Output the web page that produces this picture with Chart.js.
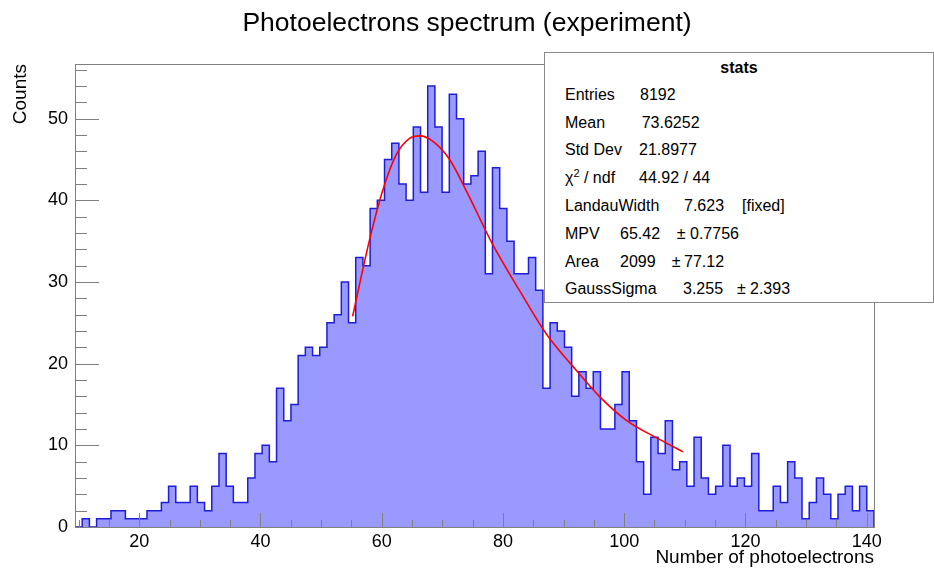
<!DOCTYPE html>
<html>
<head>
<meta charset="utf-8">
<title>Photoelectrons spectrum (experiment)</title>
<script src="https://cdn.jsdelivr.net/npm/chart.js@4.4.0/dist/chart.umd.min.js"></script>
<style>
  html, body { margin: 0; padding: 0; background: #fff; }
  #wrap { position: relative; width: 934px; height: 569px; }
  #stats {
    position: absolute; left: 544px; top: 52px; width: 390px; height: 251px;
    box-sizing: border-box; border: 1px solid #8a8a8a; background: #fff;
    font-family: 'Liberation Sans', Arial, sans-serif; font-size: 16px; color: #000;
  }
  #stats .t { position: absolute; white-space: pre; line-height: 20px; }
  #stats .sup { font-size: 11px; position: relative; top: -6px; }
</style>
</head>
<body>
<div id="wrap">
  <canvas id="spectrum" width="934" height="569"></canvas>
  <div id="stats"></div>
</div>
<script>
// histogram bins (counts per bin)
const binLow = 9.4;
const binWidth = 1.1875;
const counts = [
  0, 1, 0, 1, 1, 2, 2, 1, 1, 1,
  2, 2, 3, 5, 3, 3, 5, 3, 2, 5,
  9, 5, 3, 3, 6, 9, 10, 8, 17, 13,
  15, 21, 22, 21, 22, 25, 26, 30, 25, 33,
  32, 39, 40, 45, 47, 42, 40, 49, 41, 54,
  49, 41, 53, 50, 42, 43, 46, 31, 44, 39,
  35, 31, 31, 33, 29, 17, 25, 24, 22, 16,
  19, 17, 19, 12, 12, 15, 19, 13, 8, 4,
  11, 9, 13, 7, 8, 5, 11, 6, 4, 5,
  10, 5, 6, 5, 9, 2, 2, 5, 3, 8,
  6, 1, 3, 6, 4, 1, 4, 5, 2, 5,
  2
];

// fitted curve (landau (x) gauss)
const fitX = [55.2, 58.0, 60.2, 62.4, 64.6, 66.3, 68.5, 71.2, 74.2, 78.3, 82.7, 87.1, 91.5, 95.9, 100.3, 105.9, 109.7];
const fitY = [25.8, 35.2, 41.3, 45.6, 47.6, 47.9, 47.2, 45.0, 40.8, 34.6, 29.0, 23.7, 19.7, 16.0, 13.1, 10.7, 9.2];

const xTicks = [20, 40, 60, 80, 100, 120, 140];
const yTicks = [0, 10, 20, 30, 40, 50];

// stats box
const statNames = ['Entries', 'Mean', 'Std Dev', 'chi2 / ndf', 'LandauWidth', 'MPV', 'Area', 'GaussSigma'];
const statValues = ['8192', '73.6252', '21.8977', '44.92 / 44', '7.623', '65.42', '2099', '3.255'];
const statErrors = ['', '', '', '', '[fixed]', '0.7756', '77.12', '2.393'];

const FONT = "'Liberation Sans', Arial, sans-serif";

// build the step outline from the bins
const xMax = binLow + counts.length * binWidth;
const yMax = Math.max(...counts) * 1.05;
const histPoints = [{ x: binLow, y: 0 }];
counts.forEach((c, i) => {
  histPoints.push({ x: binLow + i * binWidth, y: c });
  histPoints.push({ x: binLow + (i + 1) * binWidth, y: c });
});
histPoints.push({ x: xMax, y: 0 });

// ROOT-like inward ticks and frame
const rootAxes = {
  id: 'rootAxes',
  afterLayout(chart) {
    // title is centred on the whole canvas, not on the padded area
    if (chart.titleBlock) {
      chart.titleBlock.left = 0;
      chart.titleBlock.right = chart.width;
      chart.titleBlock.width = chart.width;
    }
  },
  afterDatasetsDraw(chart) {
    const { ctx, chartArea: a, scales: { x, y } } = chart;
    ctx.save();
    ctx.strokeStyle = '#808080';
    ctx.lineWidth = 1;
    ctx.beginPath();
    for (let v = 0; v <= x.max; v += 5) {
      if (v < x.min) continue;
      const px = Math.round(x.getPixelForValue(v)) + 0.5;
      const len = v % 20 === 0 ? 14 : 7;
      ctx.moveTo(px, a.bottom);
      ctx.lineTo(px, a.bottom - len);
    }
    for (let v = 0; v <= y.max; v += 2) {
      const py = Math.round(y.getPixelForValue(v)) + 0.5;
      const len = v % 10 === 0 ? 24 : 12;
      ctx.moveTo(a.left, py);
      ctx.lineTo(a.left + len, py);
    }
    ctx.stroke();
    ctx.strokeRect(Math.round(a.left) + 0.5, Math.round(a.top) + 0.5,
      Math.round(a.right - a.left), Math.round(a.bottom - a.top));
    ctx.restore();
  }
};

new Chart(document.getElementById('spectrum').getContext('2d'), {
  type: 'line',
  data: {
    datasets: [
      {
        label: 'fit',
        data: fitX.map((v, i) => ({ x: v, y: fitY[i] })),
        borderColor: '#ff0000',
        borderWidth: 1.6,
        pointRadius: 0,
        fill: false,
        cubicInterpolationMode: 'monotone',
        order: 0
      },
      {
        label: 'Photoelectrons',
        data: histPoints,
        borderColor: '#1e1ed6',
        borderWidth: 1.5,
        backgroundColor: '#9999ff',
        fill: 'origin',
        pointRadius: 0,
        tension: 0,
        order: 1
      }
    ]
  },
  options: {
    responsive: false,
    animation: false,
    devicePixelRatio: 1,
    layout: { padding: { left: 0, right: 60, top: 0, bottom: 0 } },
    plugins: {
      legend: { display: false },
      tooltip: { enabled: false },
      title: {
        display: true,
        text: 'Photoelectrons spectrum (experiment)',
        color: '#000',
        font: { family: FONT, size: 26.5, weight: 'normal' },
        padding: { top: 7.5, bottom: 24.7 }
      }
    },
    scales: {
      x: {
        type: 'linear',
        min: binLow,
        max: xMax,
        afterBuildTicks: s => { s.ticks = xTicks.map(v => ({ value: v })); },
        afterFit: s => { s.height = 42; },
        grid: { display: false, drawTicks: false, tickLength: 0 },
        border: { display: false },
        ticks: { color: '#000', font: { family: FONT, size: 18 }, padding: 4, maxRotation: 0, autoSkip: false },
        title: {
          display: true, text: 'Number of photoelectrons', align: 'end',
          color: '#000', font: { family: FONT, size: 19 }, padding: 0
        }
      },
      y: {
        type: 'linear',
        min: 0,
        max: yMax,
        afterBuildTicks: s => { s.ticks = yTicks.map(v => ({ value: v })); },
        afterFit: s => { s.width = 75; },
        grid: { display: false, drawTicks: false, tickLength: 0 },
        border: { display: false },
        ticks: { color: '#000', font: { family: FONT, size: 18 }, padding: 7 },
        title: {
          display: true, text: 'Counts', align: 'end',
          color: '#000', font: { family: FONT, size: 19 }, padding: { top: 9, bottom: 0 }
        }
      }
    }
  },
  plugins: [rootAxes]
});

// stats box text
(function () {
  const box = document.getElementById('stats');
  const ox = 545, oy = 53;
  const lineY = [94.5, 122.5, 150, 177.5, 205.5, 233.5, 261.5, 289];
  const valX = [640, 641.7, 639, 639, 684, 620, 620, 683];
  const pmX = [0, 0, 0, 0, 0, 676.7, 671.7, 737];
  const errX = [0, 0, 0, 0, 742, 690, 684, 750];
  function put(html, x, yc, bold, center) {
    const el = document.createElement('span');
    el.className = 't';
    el.innerHTML = html;
    el.style.top = (yc - 10 - oy) + 'px';
    if (center) {
      el.style.left = '0px';
      el.style.width = '388px';
      el.style.textAlign = 'center';
    } else {
      el.style.left = (x - ox) + 'px';
    }
    if (bold) el.style.fontWeight = 'bold';
    box.appendChild(el);
  }
  put('stats', 0, 67.5, true, true);
  statNames.forEach((n, i) => {
    const label = n === 'chi2 / ndf' ? '\u03C7<span class="sup">2</span> / ndf' : n;
    put(label, 565, lineY[i]);
    put(statValues[i], valX[i], lineY[i]);
    if (statErrors[i] === '[fixed]') {
      put(statErrors[i], errX[i], lineY[i]);
    } else if (statErrors[i]) {
      put('\u00B1', pmX[i], lineY[i]);
      put(statErrors[i], errX[i], lineY[i]);
    }
  });
})();
</script>
</body>
</html>
